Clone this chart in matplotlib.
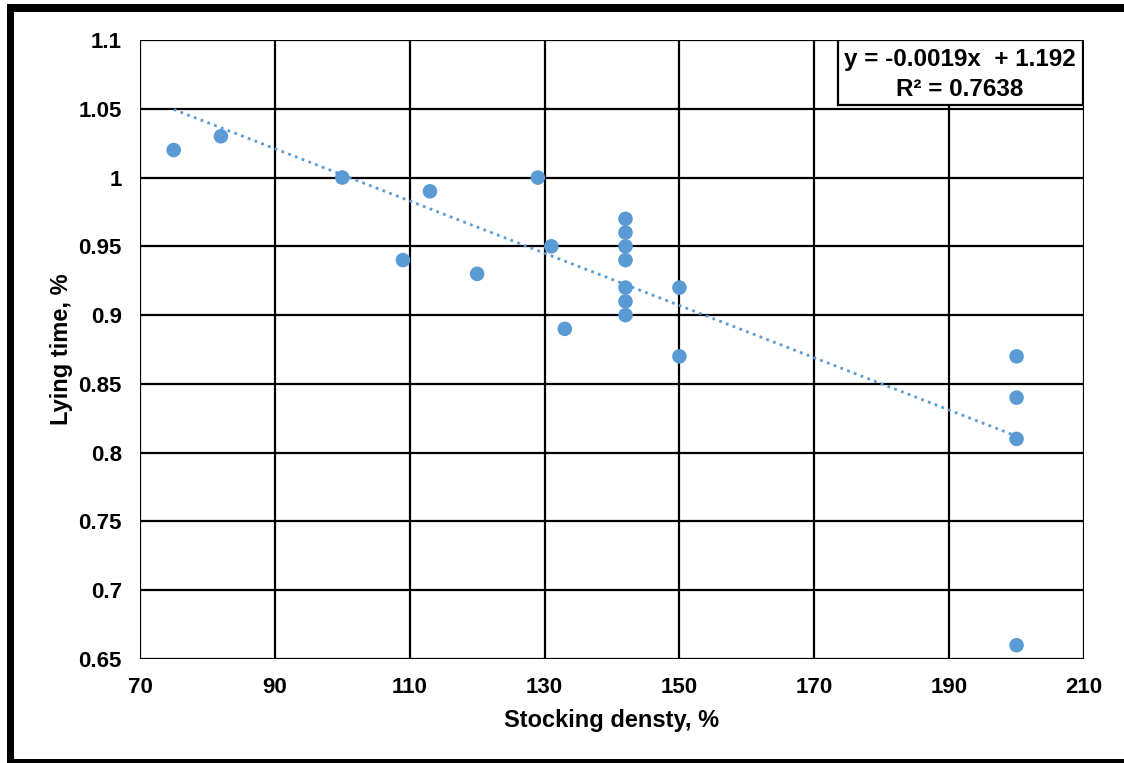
import numpy as np
import matplotlib
matplotlib.use("Agg")
import matplotlib.pyplot as plt
from matplotlib.patches import Rectangle

# ------------------------------------------------------------
# data
# ------------------------------------------------------------
densidad = [75, 82, 100, 109, 113, 120, 129, 131, 133,
            142, 142, 142, 142, 142, 142, 142,
            150, 150, 200, 200, 200, 200]
tiempo = [1.02, 1.03, 1.00, 0.94, 0.99, 0.93, 1.00, 0.95, 0.89,
          0.97, 0.96, 0.95, 0.94, 0.92, 0.91, 0.90,
          0.92, 0.87, 0.87, 0.84, 0.81, 0.66]

pendiente = -0.0019
intercepto = 1.192
r2 = 0.7638

xticks = [70, 90, 110, 130, 150, 170, 190, 210]
yticks = [0.65, 0.7, 0.75, 0.8, 0.85, 0.9, 0.95, 1, 1.05, 1.1]
ytick_labels = ["0.65", "0.7", "0.75", "0.8", "0.85", "0.9", "0.95", "1", "1.05", "1.1"]

azul = "#5B9BD5"
plt.rcParams["font.family"] = ["Liberation Sans", "DejaVu Sans"]

fig = plt.figure(figsize=(11.24, 7.63), dpi=100)
ax = fig.add_axes([140 / 1124, 1 - 659 / 763, 944 / 1124, 619 / 763])

# grid
for xv in xticks:
    ax.axvline(xv, color="black", lw=1.6, zorder=1)
for yv in yticks:
    ax.axhline(yv, color="black", lw=1.6, zorder=1)

# points
ax.scatter(densidad, tiempo, s=110, color=azul, edgecolors="none", zorder=3)

# trendline
xt = np.array([min(densidad), max(densidad)])
ax.plot(xt, pendiente * xt + intercepto, color=azul, lw=2,
        linestyle=(0, (1, 1.6)), zorder=2)

ax.set_xlim(70, 210)
ax.set_ylim(0.65, 1.1)
ax.set_xticks(xticks)
ax.set_yticks(yticks)
ax.set_yticklabels(ytick_labels)
ax.tick_params(length=0, labelsize=16)
ax.tick_params(axis="y", pad=13)
ax.tick_params(axis="x", pad=13)
for lab in ax.get_xticklabels() + ax.get_yticklabels():
    lab.set_fontweight("bold")
for s in ax.spines.values():
    s.set_visible(False)

ax.set_xlabel("Stocking densty, %", fontsize=17, fontweight="bold", labelpad=8)
ax.set_ylabel("Lying time, %", fontsize=17, fontweight="bold", labelpad=4)

# equation box
ax.add_patch(Rectangle((0.739, 0.895), 0.2595, 0.105, transform=ax.transAxes,
                       facecolor="white", edgecolor="black", lw=1.6, zorder=5))
ax.text(0.8688, 0.969, f"y = {pendiente}x  + {intercepto}", transform=ax.transAxes,
        ha="center", va="center", fontsize=17.5, fontweight="bold", zorder=6)
ax.text(0.8688, 0.92, f"R² = {r2}", transform=ax.transAxes,
        ha="center", va="center", fontsize=17.5, fontweight="bold", zorder=6)

# outer frame
W, H = 1124, 763
fig.patches.append(Rectangle((7 / W, 0), 7 / W, 1 - 4 / H, transform=fig.transFigure,
                             facecolor="black", edgecolor="none"))
fig.patches.append(Rectangle((7 / W, 1 - 12 / H), 1, 8 / H, transform=fig.transFigure,
                             facecolor="black", edgecolor="none"))
fig.patches.append(Rectangle((7 / W, 0), 1, 4 / H, transform=fig.transFigure,
                             facecolor="black", edgecolor="none"))

fig.savefig("out.png", dpi=100, facecolor="white")
